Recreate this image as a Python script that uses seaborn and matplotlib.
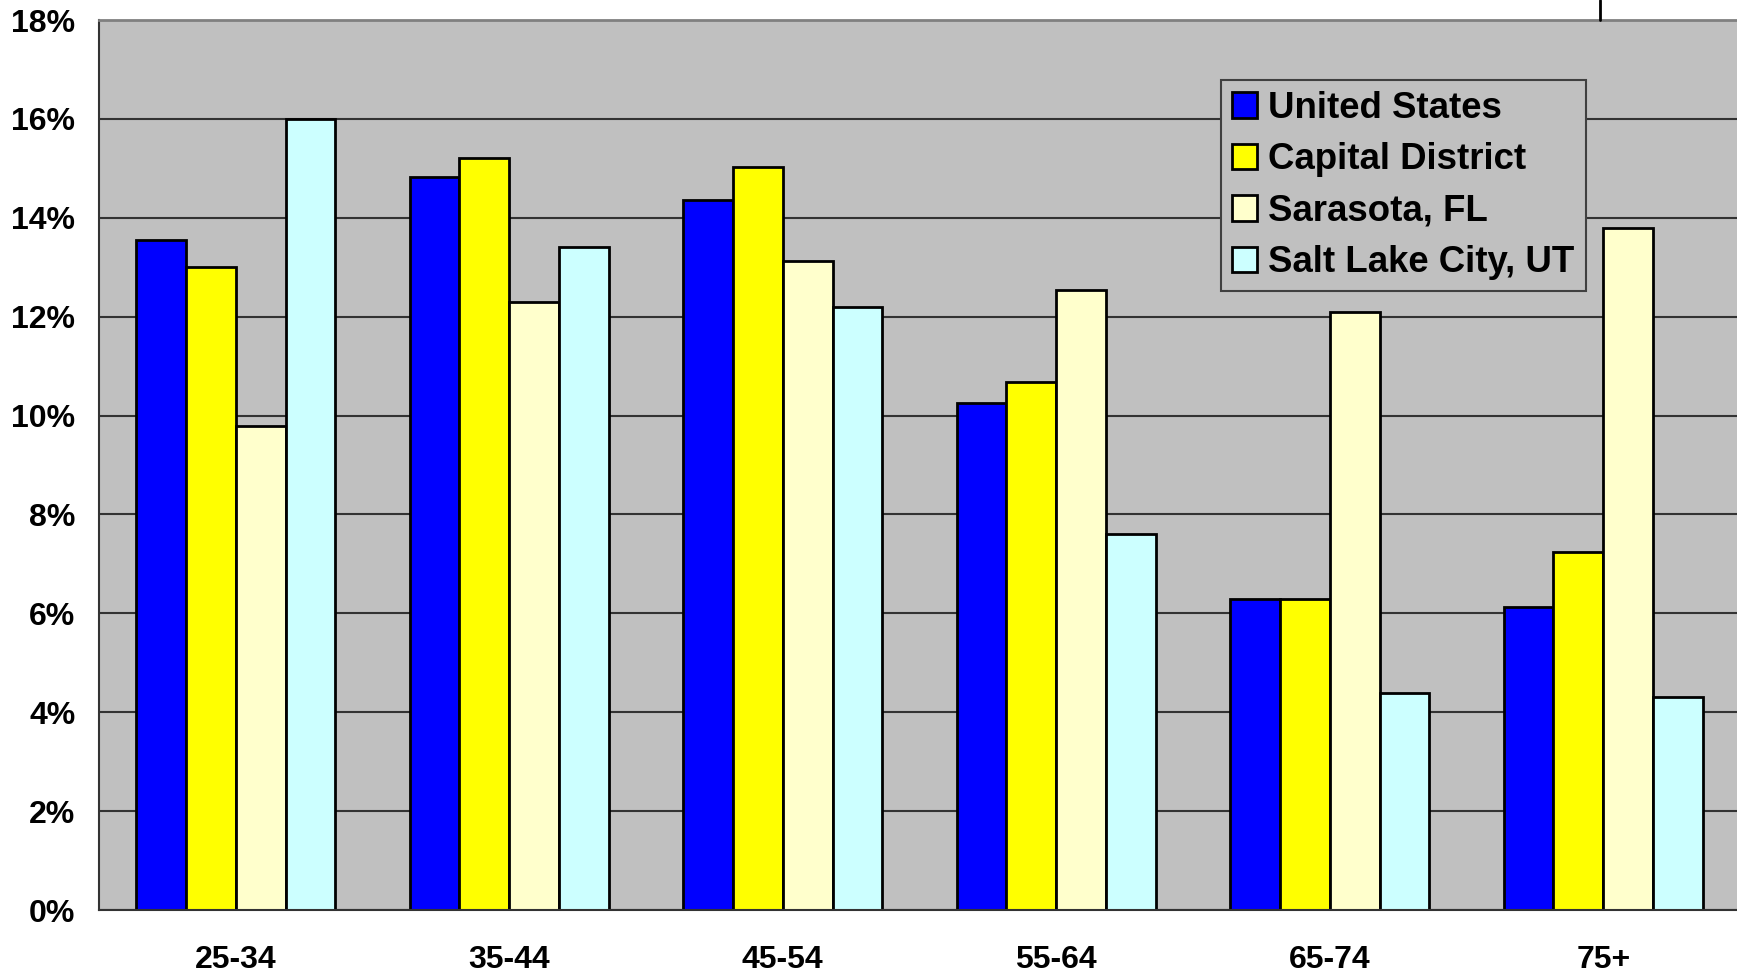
import matplotlib
matplotlib.use("Agg")
import matplotlib.pyplot as plt
import seaborn as sns
import pandas as pd
from matplotlib.lines import Line2D
from matplotlib.ticker import FuncFormatter

# Share of population by age group (%)
age_groups = ["25-34", "35-44", "45-54", "55-64", "65-74", "75+"]
regions = ["United States", "Capital District", "Sarasota, FL", "Salt Lake City, UT"]
united_states = [13.56, 14.82, 14.35, 10.25, 6.30, 6.12]
capital_district = [13.00, 15.20, 15.02, 10.67, 6.30, 7.24]
sarasota_fl = [9.78, 12.29, 13.12, 12.53, 12.10, 13.79]
salt_lake_city_ut = [16.00, 13.41, 12.20, 7.60, 4.39, 4.30]
y_ticks = [0, 2, 4, 6, 8, 10, 12, 14, 16, 18]

colors = ["#0000FF", "#FFFF00", "#FFFFCC", "#CCFFFF"]

series = [united_states, capital_district, sarasota_fl, salt_lake_city_ut]
df = pd.DataFrame(
    [(a, r, v) for r, vals in zip(regions, series) for a, v in zip(age_groups, vals)],
    columns=["age", "region", "value"],
)

sns.set_theme(style="white")
plt.rcParams["font.family"] = ["Liberation Sans", "DejaVu Sans"]
plt.rcParams["font.weight"] = "bold"
plt.rcParams["text.color"] = "black"
plt.rcParams["xtick.color"] = "black"
plt.rcParams["ytick.color"] = "black"

fig = plt.figure(figsize=(17.37, 9.74), dpi=100)
fig.patch.set_facecolor("white")
ax = fig.add_axes([99 / 1737, 1 - 910 / 974, 1641 / 1737, 890 / 974])
ax.set_facecolor("#C0C0C0")

sns.barplot(
    data=df, x="age", y="value", hue="region", order=age_groups, hue_order=regions,
    palette=colors, saturation=1, width=0.729, gap=0,
    edgecolor="black", linewidth=2, ax=ax, legend=True,
)

ax.set_xlim(-0.5, len(age_groups) - 0.5)
ax.set_ylim(0, 18)
ax.set_yticks(y_ticks)
ax.yaxis.set_major_formatter(FuncFormatter(lambda v, p: f"{v:.0f}%"))
ax.yaxis.grid(True, color="#333333", linewidth=1.5)
ax.set_axisbelow(True)
ax.set_xlabel("")
ax.set_ylabel("")

ax.tick_params(axis="y", length=0, pad=17, labelsize=23, labelcolor="black")
ax.tick_params(axis="x", length=0, pad=25, labelsize=23, labelcolor="black")
for lbl in ax.get_xticklabels() + ax.get_yticklabels():
    lbl.set_fontweight("bold")

for side in ["left", "bottom"]:
    ax.spines[side].set_color("#333333")
    ax.spines[side].set_linewidth(1.5)
ax.spines["top"].set_color("#808080")
ax.spines["top"].set_linewidth(2)
ax.spines["right"].set_visible(False)

handles, labels = ax.get_legend_handles_labels()
leg = ax.legend(
    handles, labels, loc="upper right", bbox_to_anchor=(0.906, 0.9326),
    borderaxespad=0, frameon=True, fancybox=False, framealpha=1,
    facecolor="#C0C0C0", edgecolor="#404040",
    prop={"family": "Liberation Sans", "weight": "bold", "size": 26.4},
    handlelength=0.7, handleheight=0.7, handletextpad=0.3,
    labelspacing=0.45, borderpad=0.3,
)
leg.get_frame().set_linewidth(1.5)
for t in leg.get_texts():
    t.set_color("black")
for h in leg.legend_handles:
    h.set_edgecolor("black")
    h.set_linewidth(2)

# short vertical rule above the plot area
fig.add_artist(Line2D([1600 / 1737, 1600 / 1737], [1.0, 1 - 20 / 974],
                      color="black", linewidth=2))

fig.savefig("out.png", dpi=100, facecolor="white")
